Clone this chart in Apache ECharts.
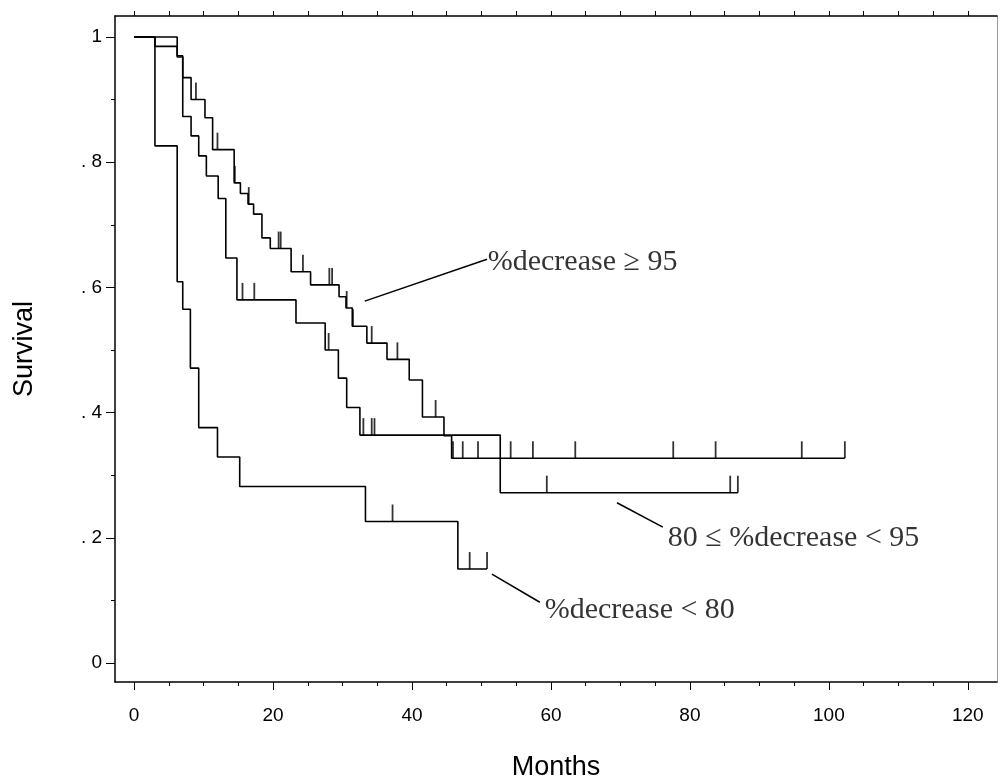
<!DOCTYPE html>
<html>
<head>
<meta charset="utf-8">
<title>Survival by % decrease</title>
<script src="https://cdn.jsdelivr.net/npm/echarts@6/dist/echarts.min.js"></script>
<style>
  html, body { margin: 0; padding: 0; background: #fff; }
  #chart { width: 1000px; height: 780px; }
</style>
</head>
<body>
<div id="chart"></div>
<script>
// Kaplan–Meier step curves: each value holds from its time until the next time.
// Group: %decrease >= 95
const timesHigh = [0, 3.0, 6.2, 7.0, 8.2, 10.2, 11.3, 14.4, 15.3, 16.4, 17.2, 18.4, 19.6, 22.6, 25.4, 29.5, 30.5, 31.4, 33.5, 36.4, 39.6, 41.5, 44.6, 45.7, 102.3];
const survHigh  = [1, 0.985, 0.97, 0.935, 0.90, 0.871, 0.82, 0.767, 0.75, 0.733, 0.717, 0.679, 0.662, 0.625, 0.604, 0.585, 0.567, 0.538, 0.511, 0.485, 0.452, 0.393, 0.363, 0.327, 0.327];
const censorHighT = [8.9, 12.0, 14.5, 16.5, 20.8, 21.1, 24.3, 28.1, 28.5, 30.6, 31.5, 34.2, 37.9, 43.4, 45.9, 47.3, 49.5, 54.2, 57.4, 63.5, 77.6, 83.7, 96.1, 102.3];
const censorHighS = [0.90, 0.82, 0.767, 0.733, 0.662, 0.662, 0.625, 0.604, 0.604, 0.567, 0.538, 0.511, 0.485, 0.393, 0.327, 0.327, 0.327, 0.327, 0.327, 0.327, 0.327, 0.327, 0.327, 0.327];

// Group: 80 <= %decrease < 95
const timesMid = [0, 6.2, 7.0, 8.2, 9.3, 10.4, 12.1, 13.2, 14.8, 23.3, 27.5, 29.4, 30.6, 32.5, 52.7, 86.9];
const survMid  = [1, 0.968, 0.873, 0.842, 0.81, 0.778, 0.742, 0.647, 0.58, 0.543, 0.5, 0.455, 0.408, 0.364, 0.272, 0.272];
const censorMidT = [15.6, 17.3, 28.0, 33.0, 34.2, 34.6, 59.4, 85.8, 86.9];
const censorMidS = [0.58, 0.58, 0.5, 0.364, 0.364, 0.364, 0.272, 0.272, 0.272];

// Group: %decrease < 80
const timesLow = [0, 3.0, 6.2, 7.0, 8.1, 9.3, 12.0, 15.2, 33.3, 46.6, 50.8];
const survLow  = [1, 0.826, 0.609, 0.565, 0.471, 0.376, 0.329, 0.282, 0.226, 0.150, 0.150];
const censorLowT = [37.2, 48.3, 50.8];
const censorLowS = [0.226, 0.15, 0.15];

// Axis ticks and labels
const monthTicks = [0, 5, 10, 15, 20, 25, 30, 35, 40, 45, 50, 55, 60, 65, 70, 75, 80, 85, 90, 95, 100, 105, 110, 115, 120];
const monthLabels = [0, 20, 40, 60, 80, 100, 120];
const survTicks = [0, 0.1, 0.2, 0.3, 0.4, 0.5, 0.6, 0.7, 0.8, 0.9, 1.0];
const survLabels = [0, 0.2, 0.4, 0.6, 0.8, 1.0];

// Group labels with their leader lines (data units)
const noteText = ['%decrease \u2265 95', '80 \u2264 %decrease < 95', '%decrease < 80'];
const noteAt   = [[50.9, 0.641], [76.8, 0.2], [59.1, 0.085]];
const leaderFrom = [[33.2, 0.578], [69.5, 0.256], [51.5, 0.142]];
const leaderTo   = [[50.8, 0.645], [76.1, 0.217], [58.4, 0.097]];

const zip = (a, b) => a.map((v, i) => [v, b[i]]);

const X_MIN = -2.75, X_MAX = 124.2;
const Y_MIN = -0.0304, Y_MAX = 1.0335;
const INK = '#000';
const tickFont = 'Liberation Sans Narrow, Arial Narrow, Liberation Sans, sans-serif';

function stepSeries(name, t, s) {
  return {
    name, type: 'line', step: 'end', data: zip(t, s),
    showSymbol: false, symbol: 'none', silent: true,
    lineStyle: { color: INK, width: 1.6 }
  };
}
function censorSeries(name, t, s) {
  return {
    name, type: 'scatter', data: zip(t, s), silent: true,
    symbol: 'rect', symbolSize: [1.8, 17], symbolOffset: [0, -8.5],
    itemStyle: { color: INK }
  };
}

const chart = echarts.init(document.getElementById('chart'), null, { renderer: 'canvas' });

chart.setOption({
  animation: false,
  backgroundColor: '#fff',
  grid: { left: 115, right: 3, top: 16, bottom: 98, containLabel: false, outerBoundsMode: 'none' },
  xAxis: [
    { // minor ticks + bottom frame line
      type: 'value', position: 'bottom', min: X_MIN, max: X_MAX,
      axisLine: { show: true, onZero: false, lineStyle: { color: INK, width: 1.5 } },
      axisTick: { show: true, customValues: monthTicks, length: 4, lineStyle: { color: INK, width: 1 } },
      axisLabel: { show: false }, splitLine: { show: false }
    },
    { // labelled ticks
      type: 'value', position: 'bottom', min: X_MIN, max: X_MAX,
      axisLine: { show: false, onZero: false },
      axisTick: { show: true, customValues: monthLabels, length: 8, lineStyle: { color: INK, width: 1 } },
      axisLabel: { show: true, customValues: monthLabels, margin: 24, color: INK, fontFamily: tickFont, fontSize: 19,
        formatter: v => String(Math.round(v)) },
      splitLine: { show: false },
      name: 'Months', nameLocation: 'middle', nameGap: 72,
      nameTextStyle: { color: INK, fontFamily: 'Liberation Sans, Arial, sans-serif', fontSize: 27 }
    },
    { // top frame line
      type: 'value', position: 'top', min: X_MIN, max: X_MAX,
      axisLine: { show: true, onZero: false, lineStyle: { color: INK, width: 1.5 } },
      axisTick: { show: true, customValues: monthTicks, length: 5, lineStyle: { color: INK, width: 1 } },
      axisLabel: { show: false }, splitLine: { show: false }
    }
  ],
  yAxis: [
    { // minor ticks + left frame line
      type: 'value', position: 'left', min: Y_MIN, max: Y_MAX,
      axisLine: { show: true, onZero: false, lineStyle: { color: INK, width: 1.5 } },
      axisTick: { show: true, customValues: survTicks, length: 4, lineStyle: { color: INK, width: 1 } },
      axisLabel: { show: false }, splitLine: { show: false }
    },
    { // labelled ticks
      type: 'value', position: 'left', min: Y_MIN, max: Y_MAX,
      axisLine: { show: false, onZero: false },
      axisTick: { show: true, customValues: survLabels, length: 9, lineStyle: { color: INK, width: 1 } },
      axisLabel: { show: true, customValues: survLabels, margin: 13, color: INK, fontFamily: tickFont, fontSize: 19,
        formatter: v => {
          if (Math.abs(v) < 1e-9) return '0';
          if (Math.abs(v - 1) < 1e-9) return '1';
          return '. ' + Math.round(v * 10);
        } },
      splitLine: { show: false },
      name: 'Survival', nameLocation: 'middle', nameGap: 77, nameRotate: 90,
      nameTextStyle: { color: INK, fontFamily: 'Liberation Sans, Arial, sans-serif', fontSize: 27 }
    },
    { // right frame line
      type: 'value', position: 'right', min: Y_MIN, max: Y_MAX,
      axisLine: { show: true, onZero: false, lineStyle: { color: '#9a9a9a', width: 1 } },
      axisTick: { show: false }, axisLabel: { show: false }, splitLine: { show: false }
    }
  ],
  series: [
    stepSeries('%decrease >= 95', timesHigh, survHigh),
    stepSeries('80 <= %decrease < 95', timesMid, survMid),
    stepSeries('%decrease < 80', timesLow, survLow),
    censorSeries('censored >= 95', censorHighT, censorHighS),
    censorSeries('censored 80-95', censorMidT, censorMidS),
    censorSeries('censored < 80', censorLowT, censorLowS),
    {
      name: 'notes', type: 'scatter', silent: true, symbolSize: 0,
      data: noteAt.map((p, i) => ({ value: p, label: { formatter: noteText[i] } })),
      label: {
        show: true, position: 'right', distance: 0, color: INK,
        fontFamily: 'Liberation Serif, Times New Roman, serif', fontSize: 30
      },
      markLine: {
        silent: true, symbol: 'none', animation: false,
        label: { show: false },
        lineStyle: { color: INK, width: 1.5, type: 'solid' },
        data: leaderFrom.map((p, i) => [{ coord: p }, { coord: leaderTo[i] }])
      }
    }
  ]
});
</script>
</body>
</html>
